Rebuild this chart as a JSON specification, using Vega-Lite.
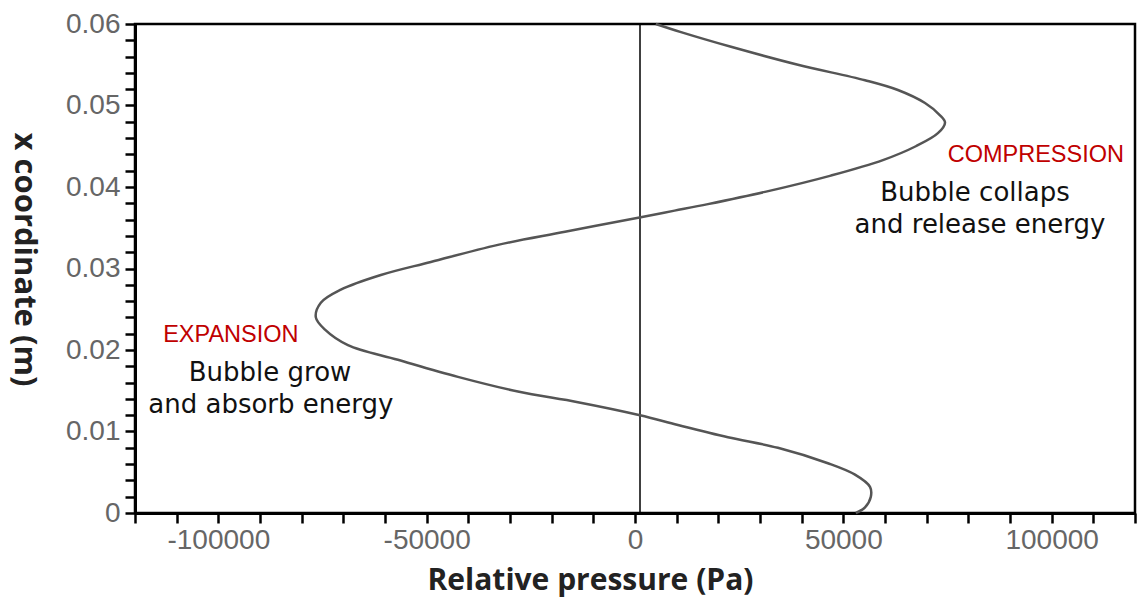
{
  "$schema": "https://vega.github.io/schema/vega-lite/v6.json",
  "width": 1000,
  "height": 489,
  "autosize": {"type": "none"},
  "padding": {"left": 135, "top": 24, "right": 4, "bottom": 86},
  "background": "white",
  "config": {
    "view": {"stroke": "#000", "strokeWidth": 2.5},
    "axis": {
      "domainColor": "#000", "domainWidth": 3, "tickColor": "#000", "tickWidth": 2.5,
      "grid": false, "labelFont": "Liberation Sans", "labelFontSize": 28, "labelColor": "#666",
      "titleFont": "Open Sans", "titleFontWeight": "bold", "titleColor": "#222"
    }
  },
  "layer": [
    {
      "data": {"values": [{"p": 1200, "y0": 0, "y1": 0.06}]},
      "mark": {"type": "rule", "color": "#000", "strokeWidth": 1.5},
      "encoding": {
        "x": {"field": "p", "type": "quantitative", "scale": {"domain": [-120000, 120000], "nice": false, "zero": false}},
        "y": {"field": "y0", "type": "quantitative"},
        "y2": {"field": "y1"}
      }
    },
    {
      "data": {"values": [
        {"i": 0, "p": 53000, "y": 0},
        {"i": 1, "p": 55200, "y": 0.0007},
        {"i": 2, "p": 56600, "y": 0.002},
        {"i": 3, "p": 56400, "y": 0.0032},
        {"i": 4, "p": 52800, "y": 0.0047},
        {"i": 5, "p": 46300, "y": 0.0061},
        {"i": 6, "p": 34300, "y": 0.008},
        {"i": 7, "p": 22300, "y": 0.0093},
        {"i": 8, "p": 10300, "y": 0.0108},
        {"i": 9, "p": 1200, "y": 0.012},
        {"i": 10, "p": -13700, "y": 0.0136},
        {"i": 11, "p": -28100, "y": 0.0149},
        {"i": 12, "p": -42500, "y": 0.0167},
        {"i": 13, "p": -56900, "y": 0.0188},
        {"i": 14, "p": -68900, "y": 0.0206},
        {"i": 15, "p": -74400, "y": 0.0225},
        {"i": 16, "p": -76600, "y": 0.024},
        {"i": 17, "p": -75400, "y": 0.0258},
        {"i": 18, "p": -70600, "y": 0.0274},
        {"i": 19, "p": -61000, "y": 0.0292},
        {"i": 20, "p": -49000, "y": 0.0308},
        {"i": 21, "p": -32900, "y": 0.0329},
        {"i": 22, "p": -16800, "y": 0.0345},
        {"i": 23, "p": 1400, "y": 0.0363},
        {"i": 24, "p": 9500, "y": 0.0371},
        {"i": 25, "p": 17500, "y": 0.0379},
        {"i": 26, "p": 31200, "y": 0.0394},
        {"i": 27, "p": 47000, "y": 0.0414},
        {"i": 28, "p": 59500, "y": 0.0433},
        {"i": 29, "p": 67400, "y": 0.0450},
        {"i": 30, "p": 72700, "y": 0.0466},
        {"i": 31, "p": 74400, "y": 0.0479},
        {"i": 32, "p": 73200, "y": 0.0488},
        {"i": 33, "p": 69600, "y": 0.0503},
        {"i": 34, "p": 63100, "y": 0.0519},
        {"i": 35, "p": 55200, "y": 0.0531},
        {"i": 36, "p": 39100, "y": 0.0550},
        {"i": 37, "p": 23040, "y": 0.0572},
        {"i": 38, "p": 11040, "y": 0.0590},
        {"i": 39, "p": 5000, "y": 0.06}
      ]},
      "mark": {"type": "line", "color": "#555", "strokeWidth": 2.5, "interpolate": "catmull-rom"},
      "encoding": {
        "x": {
          "field": "p", "type": "quantitative",
          "scale": {"domain": [-120000, 120000], "nice": false, "zero": false},
          "title": "Relative pressure (Pa)",
          "axis": {
            "values": [-120000,-110000,-100000,-90000,-80000,-70000,-60000,-50000,-40000,-30000,-20000,-10000,0,10000,20000,30000,40000,50000,60000,70000,80000,90000,100000,110000,120000],
            "tickCount": 100,
            "labelExpr": "datum.value % 50000 === 0 && abs(datum.value) <= 100000 ? '' + datum.value : ''",
            "tickSize": 10, "labelPadding": 3, "labelFlush": false, "labelOverlap": false,
            "titleFontSize": 30, "titleX": 455, "titleY": 76, "titleBaseline": "alphabetic", "titleAlign": "center", "titleAnchor": "start"
          }
        },
        "y": {
          "field": "y", "type": "quantitative",
          "scale": {"domain": [0, 0.06], "nice": false},
          "title": "x coordinate (m)",
          "axis": {
            "values": [0,0.002,0.004,0.006,0.008,0.01,0.012,0.014,0.016,0.018,0.02,0.022,0.024,0.026,0.028,0.03,0.032,0.034,0.036,0.038,0.04,0.042,0.044,0.046,0.048,0.05,0.052,0.054,0.056,0.058,0.06],
            "tickCount": 100,
            "labelExpr": "abs(datum.value*100 - round(datum.value*100)) < 0.001 ? '' + datum.value : ''",
            "tickSize": 10, "labelPadding": 5, "labelFlush": false, "labelOverlap": false,
            "titleFontSize": 31, "titleAngle": 90, "titleX": -112, "titleY": 235, "titleBaseline": "middle", "titleAlign": "center", "titleAnchor": "start"
          }
        },
        "order": {"field": "i", "type": "quantitative"}
      }
    },
    {
      "data": {"values": [
        {"p": 96200, "y": 0.0439, "label": "COMPRESSION"},
        {"p": -97000, "y": 0.0218, "label": "EXPANSION"}
      ]},
      "mark": {"type": "text", "color": "#c00000", "font": "Liberation Sans", "fontSize": 23.5, "align": "center", "baseline": "middle"},
      "encoding": {
        "x": {"field": "p", "type": "quantitative"},
        "y": {"field": "y", "type": "quantitative"},
        "text": {"field": "label"}
      }
    },
    {
      "data": {"values": [
        {"p": 81600, "y": 0.0393, "label": "Bubble collaps"},
        {"p": 82800, "y": 0.0353, "label": "and release energy"},
        {"p": -87600, "y": 0.0172, "label": "Bubble grow"},
        {"p": -87400, "y": 0.01325, "label": "and absorb energy"}
      ]},
      "mark": {"type": "text", "color": "#111", "font": "DejaVu Sans", "fontSize": 26, "align": "center", "baseline": "middle"},
      "encoding": {
        "x": {"field": "p", "type": "quantitative"},
        "y": {"field": "y", "type": "quantitative"},
        "text": {"field": "label"}
      }
    }
  ]
}
